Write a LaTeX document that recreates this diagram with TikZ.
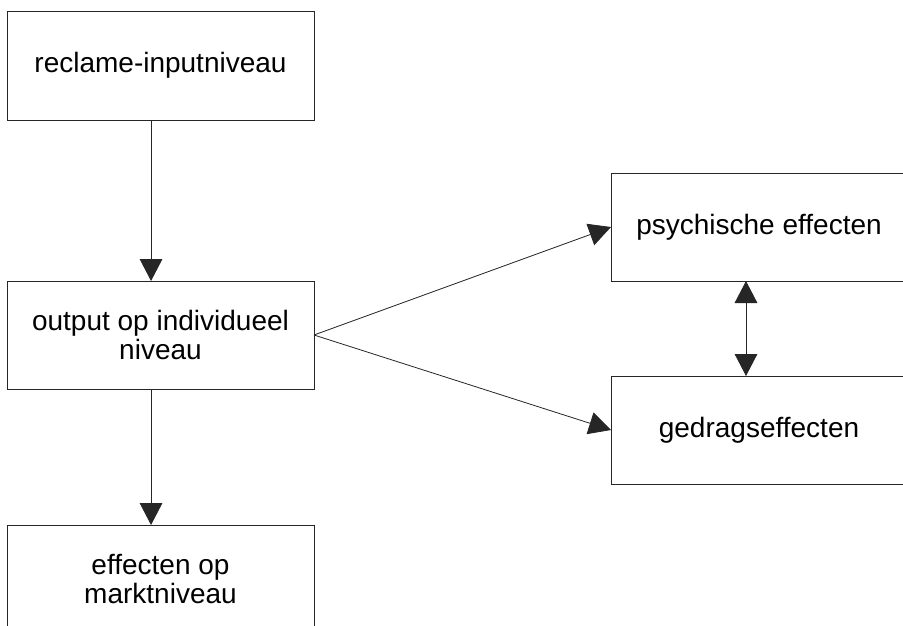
\documentclass[tikz,border=0pt]{standalone}
\usepackage{fontspec}
\setmainfont{Liberation Sans}
\usetikzlibrary{arrows.meta}
\begin{document}
\begin{tikzpicture}[x=0.75pt,y=-0.75pt,
  box/.style={draw=black!85, line width=0.7pt, rectangle, inner sep=0pt, outer sep=0pt,
    minimum height=81pt, align=center, font=\fontsize{21}{22}\selectfont},
  lbox/.style={box, minimum width=230.25pt},
  rbox/.style={box, minimum width=222pt},
  conn/.style={draw=black!85, line width=0.6pt},
  tip/.style={-{Triangle[length=16.5pt,width=17pt]}},
  dtip/.style={{Triangle[length=16.5pt,width=17pt]}-{Triangle[length=16.5pt,width=17pt]}}
]
\useasboundingbox (0,0) rectangle (903,625);
\begin{scope}
\clip (0,0) rectangle (903,625);
\node[lbox, minimum height=81.75pt] (input) at (160.5,65.5) {reclame-inputniveau};
\node[lbox] (output) at (160.5,335) {output op individueel\\niveau};
\node[lbox] (markt) at (160.5,579) {effecten op\\marktniveau};
\node[rbox] (psych) at (759,227) {psychische effecten};
\node[rbox] (gedrag) at (759,430) {gedragseffecten};
\end{scope}
\draw[conn, tip] ([xshift=-7.1pt]input.south) -- ([xshift=-7.1pt]output.north);
\draw[conn, tip] ([xshift=-7.1pt]output.south) -- ([xshift=-7.1pt]markt.north);
\draw[conn, tip] (output.east) -- (psych.west);
\draw[conn, tip] (output.east) -- (gedrag.west);
\draw[conn, dtip] ([xshift=-9.75pt]psych.south) -- ([xshift=-9.75pt]gedrag.north);
\end{tikzpicture}
\end{document}
